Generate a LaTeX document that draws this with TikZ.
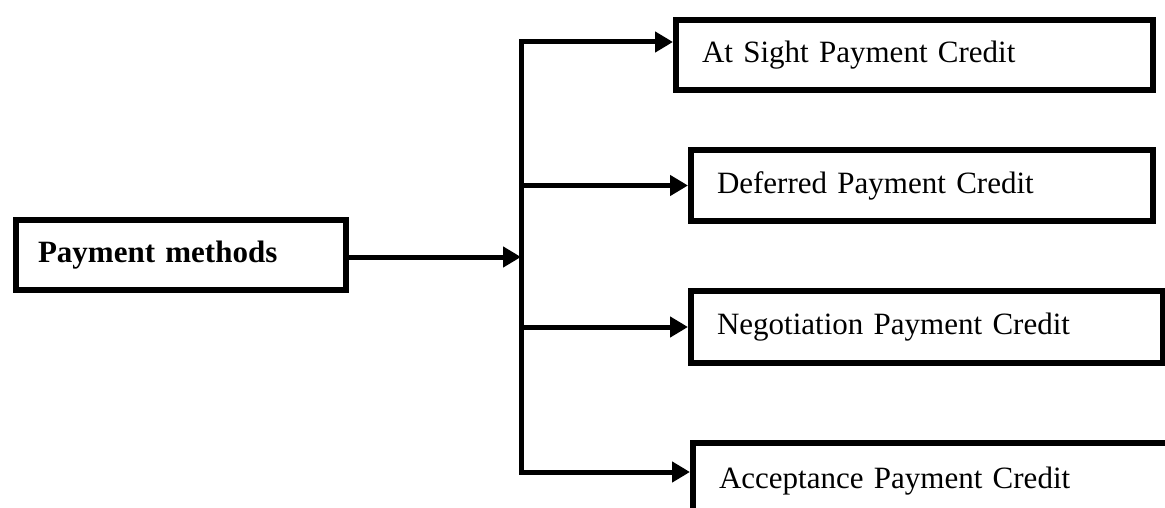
\documentclass[tikz,border=0pt]{standalone}
\usepackage{fontspec}
\setmainfont{Liberation Serif}
\usepackage{tikz}
\usetikzlibrary{arrows.meta}
\tikzstyle{method} = [rectangle, draw=black, line width=6pt, minimum height=70pt, inner xsep=22pt, inner ysep=0pt, text width=286pt, font=\fontsize{31}{37}\selectfont\bfseries]
\tikzstyle{credit} = [rectangle, draw=black, line width=6pt, minimum height=70pt, inner xsep=26pt, inner ysep=0pt, font=\fontsize{31}{37}\selectfont]
\tikzstyle{arrow} = [line width=5pt, -{Triangle[length=18pt,width=20pt]}]

\begin{document}
\begin{tikzpicture}[x=1pt, y=-1pt]

\useasboundingbox (0,0) rectangle (1165,508);
\clip (0,0) rectangle (1165,508);

\node (pay) [method, anchor=north west] at (13,217) {Payment methods};
\node (sight) [credit, anchor=north west, text width=425pt] at (673,17) {At Sight Payment Credit};
\node (defer) [credit, anchor=north west, text width=410pt, minimum height=71pt] at (688,147) {Deferred Payment Credit};
\node (nego) [credit, anchor=north west, text width=420pt, minimum height=72pt] at (688,288) {Negotiation Payment Credit};
\node (accept) [credit, anchor=north west, text width=468pt, minimum height=76pt] at (690,440) {Acceptance Payment Credit};

\coordinate (top) at (521,42);
\coordinate (bot) at (521,472);
\coordinate (hub) at (521,257);

\draw [arrow] (pay.east |- hub) -- (hub);
\draw [arrow] (bot) -- (top) -- (top -| sight.west);
\draw [arrow] (top |- defer.west) -- (defer.west);
\draw [arrow] (top |- nego.west) -- (nego.west);
\draw [arrow] (top) -- (bot) -- (bot -| accept.west);

\end{tikzpicture}
\end{document}
